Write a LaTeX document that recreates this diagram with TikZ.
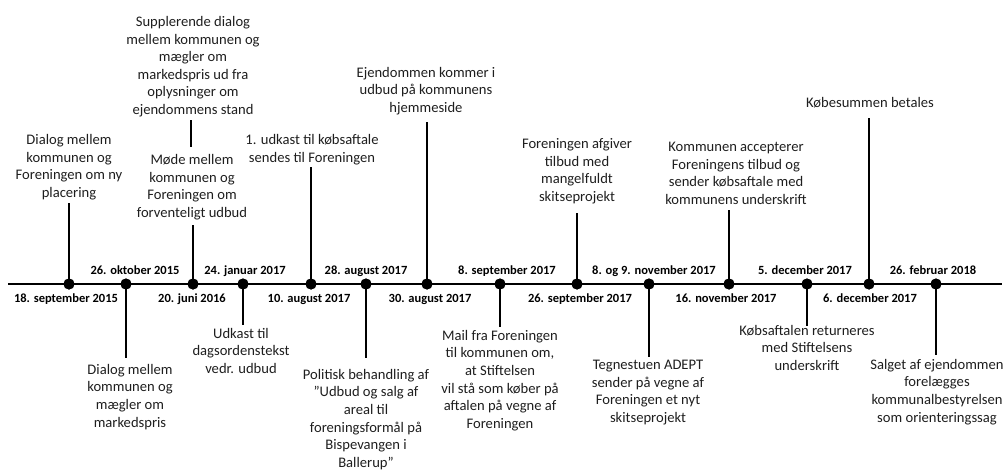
\documentclass[tikz,border=0pt]{standalone}
\usepackage{fontspec}
\setmainfont{Carlito}
\definecolor{txt}{HTML}{1E1E1E}
\begin{document}
\begin{tikzpicture}[x=1pt,y=-1pt,
  dot/.style={circle, fill=black, inner sep=0pt, minimum size=11pt},
  evt/.style={align=center, font=\fontsize{14.6}{17.6}\selectfont, inner sep=0pt, text=txt,
              execute at begin node=\strut, execute at end node=\strut},
  up/.style={evt, anchor=south},
  down/.style={evt, anchor=north},
  datelbl/.style={font=\bfseries\fontsize{12.5}{15}\selectfont, inner sep=0pt, anchor=base, text=black},
  stem/.style={draw=black, line width=1.1pt},
  axis/.style={draw=black, line width=1.4pt}]
\useasboundingbox (0,0) rectangle (1008,473);

% timeline
\coordinate (tl) at (8,284);
\coordinate (tr) at (1002,284);
\draw[axis] (tl) -- (tr);

% dots
\node[dot] (d1) at (69,284) {};
\node[dot] (d2) at (126,284) {};
\node[dot] (d3) at (193,284) {};
\node[dot] (d4) at (243,284) {};
\node[dot] (d5) at (311,284) {};
\node[dot] (d6) at (366,284) {};
\node[dot] (d7) at (427,284) {};
\node[dot] (d8) at (500,284) {};
\node[dot] (d9) at (577,284) {};
\node[dot] (d10) at (649,284) {};
\node[dot] (d11) at (729,284) {};
\node[dot] (d12) at (807,284) {};
\node[dot] (d13) at (869,284) {};
\node[dot] (d14) at (936,284) {};

% dates
\node[datelbl] (l1) at (66,302.5) {18. september 2015};
\node[datelbl] (l2) at (135,274) {26. oktober 2015};
\node[datelbl] (l3) at (192,302.5) {20. juni 2016};
\node[datelbl] (l4) at (245,274) {24. januar 2017};
\node[datelbl] (l5) at (309,302.5) {10. august 2017};
\node[datelbl] (l6) at (366,274) {28. august 2017};
\node[datelbl] (l7) at (430,302.5) {30. august 2017};
\node[datelbl] (l8) at (507,274) {8. september 2017};
\node[datelbl] (l9) at (580,302.5) {26. september 2017};
\node[datelbl] (l10) at (654,274) {8. og 9. november 2017};
\node[datelbl] (l11) at (726,302.5) {16. november 2017};
\node[datelbl] (l12) at (805,274) {5. december 2017};
\node[datelbl] (l13) at (870,302.5) {6. december 2017};
\node[datelbl] (l14) at (933,274) {26. februar 2018};

% events above
\node[up] (a1) at (69,203) {Dialog mellem\\kommunen og\\Foreningen om ny\\placering};
\node[up] (a2) at (192,223) {Møde mellem\\kommunen og\\Foreningen om\\forventeligt udbud};
\node[up] (a3) at (193,120) {Supplerende dialog\\mellem kommunen og\\mægler om\\markedspris ud fra\\oplysninger om\\ejendommens stand};
\node[up] (a4) at (312,168) {1. udkast til købsaftale\\sendes til Foreningen};
\node[up] (a5) at (426,118) {Ejendommen kommer i\\udbud på kommunens\\hjemmeside};
\node[up] (a6) at (577,207) {Foreningen afgiver\\tilbud med\\mangelfuldt\\skitseprojekt};
\node[up] (a7) at (736,210) {Kommunen accepterer\\Foreningens tilbud og\\sender købsaftale med\\kommunens underskrift};
\node[up] (a8) at (870,113) {Købesummen betales};

% events below
\node[down] (b1) at (130,364) {Dialog mellem\\kommunen og\\mægler om\\markedspris};
\node[down] (b2) at (241,328) {Udkast til\\dagsordenstekst\\vedr. udbud};
\node[down] (b3) at (366,369) {Politisk behandling af\\”Udbud og salg af\\areal til\\foreningsformål på\\Bispevangen i\\Ballerup”};
\node[down] (b4) at (500,330) {Mail fra Foreningen\\til kommunen om,\\at Stiftelsen\\vil stå som køber på\\aftalen på vegne af\\Foreningen};
\node[down] (b5) at (648,360) {Tegnestuen ADEPT\\sender på vegne af\\Foreningen et nyt\\skitseprojekt};
\node[down] (b6) at (807,325) {Købsaftalen returneres\\med Stiftelsens\\underskrift};
\node[down] (b7) at (937,359) {Salget af ejendommen\\forelægges\\kommunalbestyrelsen\\som orienteringssag};

% stem ends
\coordinate (s1) at (69,203);
\coordinate (s3) at (193,225);
\coordinate (s3a) at (191,147);
\coordinate (s3b) at (191,120);
\coordinate (s5) at (311,167);
\coordinate (s7) at (427,122);
\coordinate (s9) at (577,213);
\coordinate (s11) at (729,210);
\coordinate (s13) at (869,118);
\coordinate (s2) at (126,358);
\coordinate (s4) at (243,325);
\coordinate (s6) at (366,358);
\coordinate (s8) at (500,327);
\coordinate (s10) at (649,357);
\coordinate (s12) at (807,326);
\coordinate (s14) at (936,355);

\foreach \i in {1,...,14} {\draw[stem] (d\i.center) -- (s\i);}
\draw[stem] (s3a) -- (s3b);

% redraw dots on top
\foreach \i in {1,...,14} {\fill[black] (d\i) circle (5.5pt);}
\end{tikzpicture}
\end{document}
